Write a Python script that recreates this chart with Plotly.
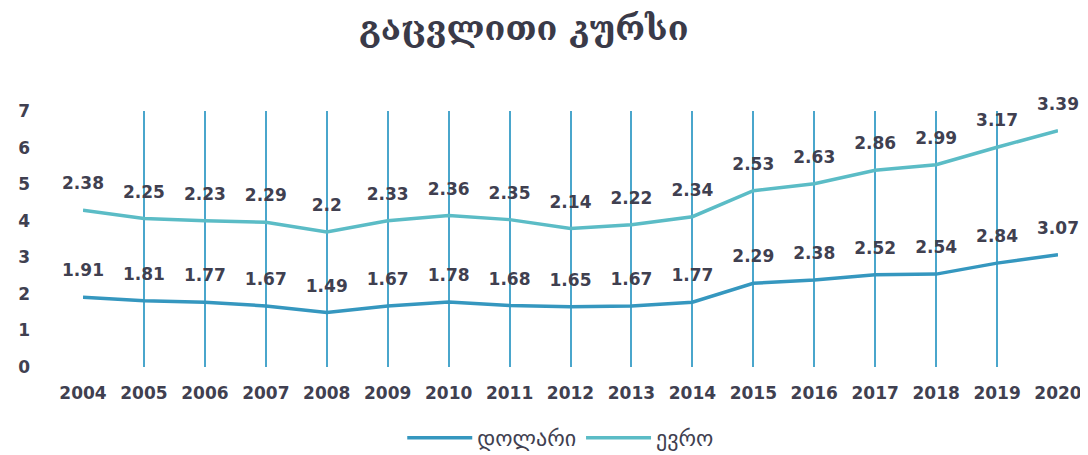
import plotly.graph_objects as go

years = list(range(2004, 2021))
dollar = [1.91, 1.81, 1.77, 1.67, 1.49, 1.67, 1.78, 1.68, 1.65, 1.67, 1.77, 2.29, 2.38, 2.52, 2.54, 2.84, 3.07]
euro = [2.38, 2.25, 2.23, 2.29, 2.2, 2.33, 2.36, 2.35, 2.14, 2.22, 2.34, 2.53, 2.63, 2.86, 2.99, 3.17, 3.39]

label_font = dict(family='DejaVu Sans', size=17, color='#404050')
# invisible markers push the value labels up off the line
ghost = dict(size=25, color='rgba(0,0,0,0)')

fig = go.Figure()
fig.add_trace(go.Scatter(x=years, y=dollar, name='დოლარი', stackgroup='one', fill='none',
                         mode='lines+markers+text', text=[f'<b>{v}</b>' for v in dollar],
                         textposition='top center', cliponaxis=False, marker=ghost,
                         textfont=label_font, line=dict(color='#3597bf', width=3.5)))
fig.add_trace(go.Scatter(x=years, y=euro, name='ევრო', stackgroup='one', fill='none',
                         mode='lines+markers+text', text=[f'<b>{v}</b>' for v in euro],
                         textposition='top center', cliponaxis=False, marker=ghost,
                         textfont=label_font, line=dict(color='#5bbcc6', width=3.5)))

fig.update_layout(
    width=1088, height=455,
    margin=dict(l=75, r=38, t=103, b=96),
    paper_bgcolor='white', plot_bgcolor='white',
    title=dict(text='<b>გაცვლითი კურსი</b>', x=0.474, y=0.955, xanchor='center', yanchor='middle',
               font=dict(family='DejaVu Serif', size=34, color='#3a3a48')),
    showlegend=True,
    legend=dict(orientation='h', x=0.49, xanchor='center', yref='container', y=0.055,
                yanchor='middle', itemwidth=65,
                font=dict(family='DejaVu Sans', size=22, color='#404050')),
)

fig.update_xaxes(range=[2004, 2020], tickmode='array', tickvals=years,
                 ticktext=[f'<b>{y}</b>' for y in years], automargin=False,
                 showgrid=True, gridcolor='#4aa6cc', gridwidth=1.5, zeroline=False,
                 showline=False, tickfont=dict(family='DejaVu Sans', size=17, color='#404050'),
                 ticklabelstandoff=14)
fig.update_yaxes(range=[0, 7], tickmode='array', tickvals=list(range(8)),
                 ticktext=[f'<b>{v}</b>' for v in range(8)], automargin=False,
                 showgrid=False, zeroline=False, showline=False,
                 tickfont=dict(family='DejaVu Sans', size=17, color='#404050'),
                 ticklabelstandoff=52)

fig.write_html("out.html")
